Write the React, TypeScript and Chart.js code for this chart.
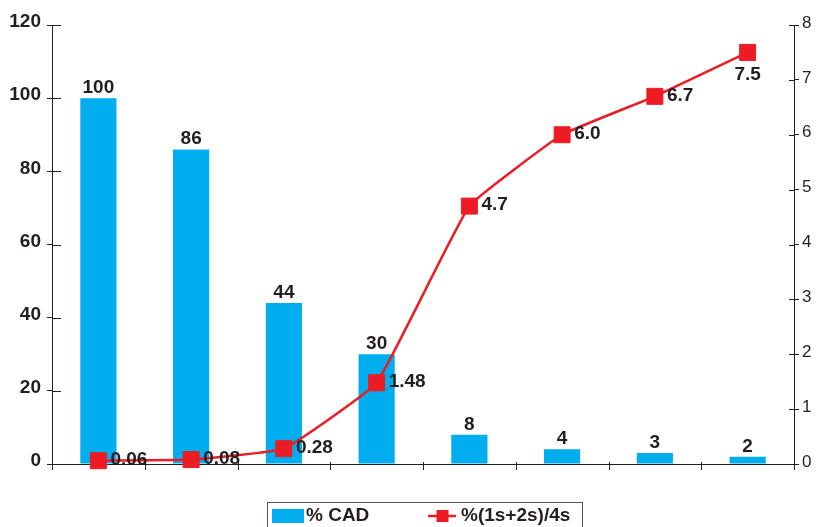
import { useEffect, useRef } from 'react';
import { Chart, registerables } from 'chart.js';

Chart.register(...registerables);

// Eight groups along the x axis (no category text is shown under the axis)
const groups = ['1', '2', '3', '4', '5', '6', '7', '8'];
// Bar series: percentage with CAD (left axis)
const cadPercent = [100, 86, 44, 30, 8, 4, 3, 2];
// Line series: (1s+2s)/4s ratio (right axis), kept as printed
const ratioText = ['0.06', '0.08', '0.28', '1.48', '4.7', '6.0', '6.7', '7.5'];
const ratioValues = ratioText.map(Number);
// Series names
const seriesNames = ['% CAD', '%(1s+2s)/4s'];
// Axis ranges
const leftMax = 120;
const leftStep = 20;
const rightMax = 8;
const rightStep = 1;

const INK = '#231F20';
const BLUE = '#00AEEF';
const RED = '#ED1C24';
const FONT = '"Liberation Sans", Arial, Helvetica, sans-serif';

const decor = {
  id: 'decor',
  beforeDatasetsDraw(chart: any) {
    const { ctx, chartArea: a, scales } = chart;
    const xs = scales.x;
    const n = groups.length;
    ctx.save();
    ctx.strokeStyle = INK;
    ctx.lineWidth = 1;
    ctx.beginPath();
    // x axis baseline
    const by = Math.round(a.bottom) + 0.5;
    ctx.moveTo(a.left, by);
    ctx.lineTo(a.right, by);
    // vertical axes run a little below the baseline
    ctx.moveTo(Math.round(a.left) + 0.5, a.bottom);
    ctx.lineTo(Math.round(a.left) + 0.5, a.bottom + 6);
    ctx.moveTo(Math.round(a.right) + 0.5, a.bottom);
    ctx.lineTo(Math.round(a.right) + 0.5, a.bottom + 6);
    // category boundary ticks
    for (let i = 0; i <= n; i++) {
      let bx: number;
      if (i === 0) bx = a.left;
      else if (i === n) bx = a.right;
      else bx = (xs.getPixelForValue(i - 1) + xs.getPixelForValue(i)) / 2;
      bx = Math.round(bx) + 0.5;
      ctx.moveTo(bx, a.bottom - 2);
      ctx.lineTo(bx, a.bottom + 6);
    }
    // inner halves of the value-axis ticks
    for (const t of scales.y.ticks) {
      const yy = Math.round(scales.y.getPixelForValue(t.value)) + 0.5;
      ctx.moveTo(a.left, yy);
      ctx.lineTo(a.left + 9, yy);
    }
    for (const t of scales.y1.ticks) {
      const yy = Math.round(scales.y1.getPixelForValue(t.value)) + 0.5;
      ctx.moveTo(a.right - 5, yy);
      ctx.lineTo(a.right, yy);
    }
    ctx.stroke();
    ctx.restore();
  },
  afterDatasetsDraw(chart: any) {
    const { ctx } = chart;
    ctx.save();
    ctx.fillStyle = INK;
    ctx.font = `bold 19px ${FONT}`;
    // bar value labels
    const barMeta = chart.getDatasetMeta(0);
    barMeta.data.forEach((el: any, i: number) => {
      ctx.textAlign = 'center';
      ctx.textBaseline = 'alphabetic';
      ctx.fillText(String(cadPercent[i]), el.x, el.y - 5);
    });
    // line value labels
    const lineMeta = chart.getDatasetMeta(1);
    lineMeta.data.forEach((el: any, i: number) => {
      const last = i === lineMeta.data.length - 1;
      if (last) {
        ctx.textAlign = 'center';
        ctx.textBaseline = 'top';
        ctx.fillText(ratioText[i], el.x, el.y + 13);
      } else {
        ctx.textAlign = 'left';
        ctx.textBaseline = 'middle';
        ctx.fillText(ratioText[i], el.x + 12, el.y - 1);
      }
    });
    ctx.restore();
  },
  afterDraw(chart: any) {
    const { ctx } = chart;
    ctx.save();
    // legend frame
    ctx.strokeStyle = '#555';
    ctx.lineWidth = 1;
    ctx.strokeRect(267.5, 502.5, 315, 40);
    // bar swatch
    ctx.fillStyle = BLUE;
    ctx.fillRect(272, 509, 32, 14);
    ctx.fillStyle = INK;
    ctx.textBaseline = 'middle';
    ctx.textAlign = 'left';
    ctx.font = `bold 19px ${FONT}`;
    ctx.fillText(seriesNames[0], 306, 516);
    // line swatch
    ctx.strokeStyle = RED;
    ctx.lineWidth = 2.5;
    ctx.beginPath();
    ctx.moveTo(428, 516);
    ctx.lineTo(456, 516);
    ctx.stroke();
    ctx.fillStyle = RED;
    ctx.fillRect(436.5, 510, 12, 12);
    ctx.fillStyle = INK;
    ctx.font = `bold 19px ${FONT}`;
    ctx.fillText(seriesNames[1], 461, 516);
    ctx.restore();
  },
};

export default function App() {
  const ref = useRef<HTMLCanvasElement | null>(null);

  useEffect(() => {
    if (!ref.current) return;
    const chart = new Chart(ref.current, {
      type: 'bar',
      data: {
        labels: groups,
        datasets: [
          {
            type: 'bar',
            label: seriesNames[0],
            data: cadPercent,
            backgroundColor: BLUE,
            borderWidth: 0,
            barPercentage: 0.39,
            categoryPercentage: 1,
            yAxisID: 'y',
            order: 2,
          },
          {
            type: 'line',
            label: seriesNames[1],
            data: ratioValues,
            borderColor: RED,
            borderWidth: 2.5,
            backgroundColor: RED,
            pointStyle: 'rect',
            pointRadius: 11.3,
            pointBorderWidth: 1,
            pointBorderColor: RED,
            pointBackgroundColor: RED,
            tension: 0.1,
            yAxisID: 'y1',
            order: 1,
            clip: false,
          } as any,
        ],
      },
      options: {
        animation: false,
        responsive: false,
        devicePixelRatio: 1,
        layout: { padding: { top: 25, bottom: 63, left: 0, right: 0 } },
        plugins: {
          legend: { display: false },
          tooltip: { enabled: false },
        },
        scales: {
          x: {
            display: false,
            offset: true,
            grid: { display: false },
          },
          y: {
            position: 'left',
            min: 0,
            max: leftMax,
            afterFit: (s: any) => {
              s.width = 52;
            },
            ticks: {
              stepSize: leftStep,
              color: INK,
              padding: 6,
              labelOffset: -3,
              font: { family: FONT, size: 19, weight: 'bold' },
            },
            grid: {
              drawOnChartArea: false,
              drawTicks: true,
              tickLength: 5,
              color: INK,
            },
            border: { display: true, color: INK, width: 1 },
          },
          y1: {
            position: 'right',
            min: 0,
            max: rightMax,
            afterFit: (s: any) => {
              s.width = 26;
            },
            ticks: {
              stepSize: rightStep,
              color: INK,
              padding: 3,
              labelOffset: -2,
              font: { family: FONT, size: 17 },
            },
            grid: {
              drawOnChartArea: false,
              drawTicks: true,
              tickLength: 5,
              color: INK,
            },
            border: { display: true, color: INK, width: 1 },
          },
        },
      } as any,
      plugins: [decor],
    });
    return () => chart.destroy();
  }, []);

  return (
    <div style={{ position: 'absolute', left: 0, top: 0, width: 820, height: 527, background: '#fff' }}>
      <canvas ref={ref} width={820} height={527} style={{ display: 'block' }} />
    </div>
  );
}
